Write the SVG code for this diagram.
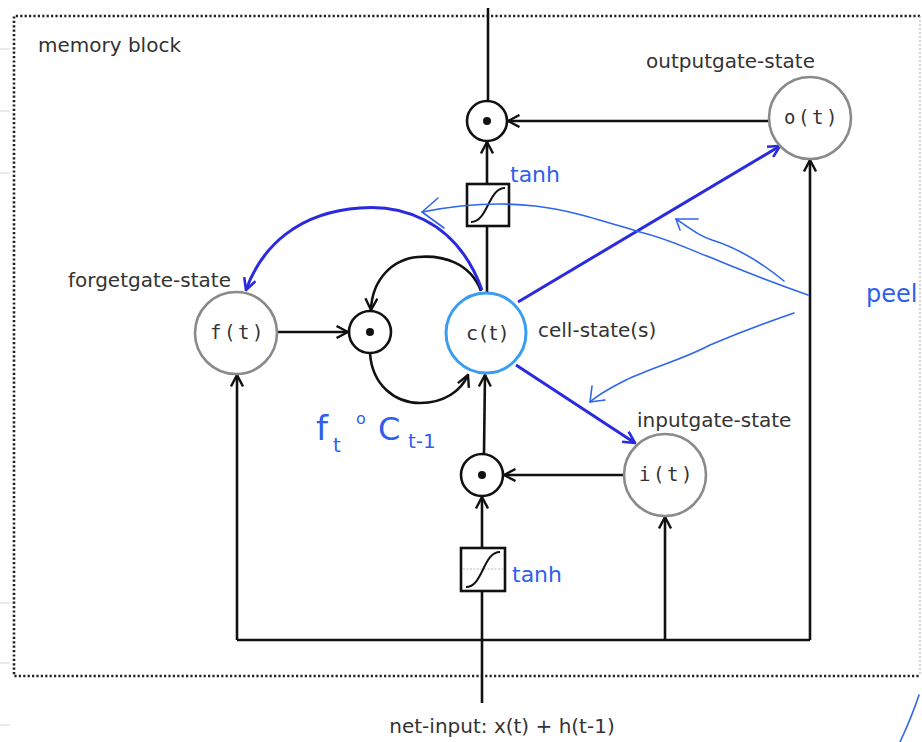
<svg xmlns="http://www.w3.org/2000/svg" width="922" height="742" viewBox="0 0 922 742">
<style>
.lbl{font-family:"DejaVu Sans",sans-serif;font-size:20px;fill:#333}
.mono{font-family:"DejaVu Sans Mono",monospace;font-size:19px;fill:#333;letter-spacing:2.5px}
.node{fill:#fff;stroke:#8a8a8a;stroke-width:2.6}
.prod{fill:#fff;stroke:#111;stroke-width:2.6}
.dot{fill:#111}
.con{fill:none;stroke:#111;stroke-width:2.6}
.blue{fill:none;stroke:#2a2ae0;stroke-width:3}
.hand{fill:none;stroke:#2f66ee;stroke-width:1.6;stroke-linecap:round;stroke-linejoin:round}
.htxt{font-family:"DejaVu Sans",sans-serif;fill:#2f5fee}
.border{fill:none;stroke:#222;stroke-width:2.6;stroke-dasharray:2.2 2.2}
</style>
<defs>
<marker id="ah" viewBox="0 0 14 14" refX="12.5" refY="7" markerWidth="14" markerHeight="14" markerUnits="userSpaceOnUse" orient="auto">
<path d="M1,1 L12.5,7 L1,13" fill="none" stroke="#111" stroke-width="2.4"/>
</marker>
<marker id="ahb" viewBox="0 0 14 14" refX="12.5" refY="7" markerWidth="14" markerHeight="14" markerUnits="userSpaceOnUse" orient="auto">
<path d="M1,1 L12.5,7 L1,13" fill="none" stroke="#2a2ae0" stroke-width="2.6"/>
</marker>
</defs>
<rect width="922" height="742" fill="#fff"/>
<g id="background-ticks" stroke="#d6d6d6" stroke-width="1">
<line x1="0" y1="49" x2="10" y2="49"/><line x1="0" y1="111" x2="10" y2="111"/><line x1="0" y1="173" x2="10" y2="173"/>
<line x1="0" y1="603" x2="10" y2="603"/><line x1="0" y1="663" x2="10" y2="663"/><line x1="0" y1="725" x2="10" y2="725"/>
</g>
<g id="memory-block">
<path class="border" d="M920,16 L14,16 L14,676 L920,676"/>
<line x1="920" y1="16" x2="920" y2="676" stroke="#bbb" stroke-width="1.2" stroke-dasharray="2 2"/>
<text class="lbl" x="38" y="52">memory block</text>
</g>
<g id="connectors">
<path class="con" d="M488,8 L488,100"/>
<path class="con" d="M769,121 L508,121" marker-end="url(#ah)"/>
<path class="con" d="M487,184 L487,142" marker-end="url(#ah)"/>
<path class="con" d="M487,292 L487,226"/>
<path class="con" d="M278,332 L348,332" marker-end="url(#ah)"/>
<path class="con" d="M481,291 C470,262 442,255 418,257 C392,259 372,280 371,310" marker-end="url(#ah)"/>
<path class="con" d="M370,353 C372,385 395,403 420,403 C444,403 461,391 468,375" marker-end="url(#ah)"/>
<path class="con" d="M484,453 L485,375" marker-end="url(#ah)"/>
<path class="con" d="M624,475 L504,475" marker-end="url(#ah)"/>
<path class="con" d="M482,548 L482,497" marker-end="url(#ah)"/>
<path class="con" d="M482,703 L482,591"/>
<path class="con" d="M237,640 L810,640"/>
<path class="con" d="M237,640 L237,375" marker-end="url(#ah)"/>
<path class="con" d="M665,640 L665,517" marker-end="url(#ah)"/>
<path class="con" d="M810,640 L810,160" marker-end="url(#ah)"/>
<path class="blue" d="M482,290 C455,215 395,205 360,208 C300,212 262,245 246,290" marker-end="url(#ahb)"/>
<path class="blue" d="M518,302 L780,146" marker-end="url(#ahb)"/>
<path class="blue" d="M516,365 L635,443" marker-end="url(#ahb)"/>
</g>
<g id="tanh-top">
<rect x="467" y="184" width="42" height="42" fill="#fff" stroke="#111" stroke-width="2.6"/>
<path d="M471,222 C488,222 488,188 505,188" fill="none" stroke="#111" stroke-width="2"/>
</g>
<g id="tanh-bottom">
<rect x="461" y="548" width="44" height="43" fill="#fff" stroke="#111" stroke-width="2.6"/>
<line x1="463" y1="569" x2="503" y2="569" stroke="#bbb" stroke-width="1" stroke-dasharray="2 1.5"/>
<path d="M466,587 C483,587 483,552 500,552" fill="none" stroke="#111" stroke-width="2"/>
</g>
<g id="prod-out"><circle class="prod" cx="487" cy="121" r="20"/><circle class="dot" cx="487" cy="121" r="4"/></g>
<g id="prod-forget"><circle class="prod" cx="370" cy="332" r="21"/><circle class="dot" cx="370" cy="332" r="4"/></g>
<g id="prod-in"><circle class="prod" cx="482" cy="475" r="21"/><circle class="dot" cx="482" cy="475" r="4"/></g>
<g id="forgetgate">
<circle class="node" cx="236" cy="333" r="41"/>
<text class="mono" x="238" y="339" text-anchor="middle">f(t)</text>
<text class="lbl" x="68" y="287">forgetgate-state</text>
</g>
<g id="cellstate">
<circle cx="486" cy="333" r="40" fill="#fff" stroke="#3a9ef0" stroke-width="3"/>
<text class="lbl" x="488" y="340" text-anchor="middle" style="font-size:20px;letter-spacing:2px">c(t)</text>
<text class="lbl" x="538" y="337">cell-state(s)</text>
</g>
<g id="inputgate">
<circle class="node" cx="665" cy="475" r="41"/>
<text class="mono" x="667" y="481" text-anchor="middle">i(t)</text>
<text class="lbl" x="637" y="427">inputgate-state</text>
</g>
<g id="outputgate">
<circle class="node" cx="810" cy="118" r="41"/>
<text class="mono" x="812" y="124" text-anchor="middle">o(t)</text>
<text class="lbl" x="646" y="68">outputgate-state</text>
</g>
<g id="net-input">
<text class="lbl" x="502" y="733" text-anchor="middle">net-input: x(t) + h(t-1)</text>
</g>
<g id="annotations">
<path class="hand" d="M808,295 C780,285 745,272 712,258 C690,250 672,240 640,232 C600,220 570,210 535,206 C500,202 462,204 422,212"/>
<path class="hand" d="M438,198 L422,212 L444,228"/>
<path class="hand" d="M784,281 C762,263 738,248 712,240 C700,236 695,232 676,219"/>
<path class="hand" d="M698,219 L676,219 L680,230"/>
<path class="hand" d="M794,313 C762,324 736,334 710,345 C682,360 650,368 626,380 C610,388 598,395 590,402"/>
<path class="hand" d="M592,386 L590,402 L605,400"/>
<path class="hand" d="M900,742 C908,725 914,710 919,695"/>
<text class="htxt" x="510" y="182" font-size="22">tanh</text>
<text class="htxt" x="512" y="582" font-size="22">tanh</text>
<text class="htxt" x="866" y="302" font-size="24">peel</text>
<text class="htxt" x="316" y="440" font-size="34">f</text>
<text class="htxt" x="333" y="452" font-size="20">t</text>
<text class="htxt" x="356" y="424" font-size="16">o</text>
<text class="htxt" x="378" y="440" font-size="32">C</text>
<text class="htxt" x="408" y="448" font-size="20">t-1</text>
</g>
</svg>
